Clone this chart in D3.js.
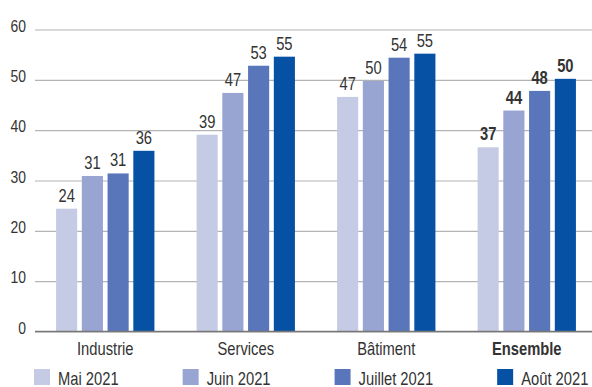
<!DOCTYPE html>
<html>
<head>
<meta charset="utf-8">
<script src="https://cdn.jsdelivr.net/npm/d3@7"></script>
<style>
  body { margin: 0; background: #fff; }
  svg { display: block; }
  text { font-family: "Liberation Sans", Arial, sans-serif; fill: #333; }
</style>
</head>
<body>
<div id="chart"></div>
<script>
// categories and series
var categories = ["Industrie", "Services", "Bâtiment", "Ensemble"];
var months = ["Mai 2021", "Juin 2021", "Juillet 2021", "Août 2021"];
var colors = ["#c6cbe5", "#98a4d1", "#5a76ba", "#0751a5"];

// values per category, in month order
var industrie = [24.4, 30.9, 31.4, 35.9];
var services = [39.1, 47.4, 52.8, 54.6];
var batiment = [46.6, 49.8, 54.4, 55.2];
var ensemble = [36.6, 43.9, 47.8, 50.2];
var yTicks = [0, 10, 20, 30, 40, 50, 60];

var values = [industrie, services, batiment, ensemble];

var w = 592, h = 387;
var narrow = 0.82; // condensed look of the original font

var svg = d3.select("#chart").append("svg")
    .attr("width", w)
    .attr("height", h);

function place(x, y) {
  return "translate(" + x + "," + y + ") scale(" + narrow + ",1)";
}

var x0 = d3.scaleBand()
    .domain(categories)
    .range([35, 597])
    .paddingInner(0.3)
    .paddingOuter(0.15);

var x1 = d3.scaleBand()
    .domain(months)
    .range([0, x0.bandwidth()])
    .paddingInner(0.18);

var y = d3.scaleLinear()
    .domain([0, 60])
    .range([331.5, 29.5]);

var fmt = d3.format(".0f");

// grid
var yAxis = d3.axisLeft(y)
    .tickValues(yTicks)
    .tickSize(-(w - 35))
    .tickPadding(0);

var gy = svg.append("g")
    .attr("transform", "translate(35,0)")
    .call(yAxis);
gy.select(".domain").remove();
gy.selectAll(".tick line")
    .attr("stroke", "#b4b4b4")
    .attr("stroke-width", 1.2);
gy.selectAll(".tick text")
    .attr("x", null)
    .attr("dy", "0.1em")
    .attr("transform", place(-9, 0))
    .style("font-size", "17px")
    .attr("fill", "#333");

// bars
var groups = svg.selectAll("g.cat")
    .data(categories)
  .enter().append("g")
    .attr("class", "cat")
    .attr("transform", function(d) { return "translate(" + x0(d) + ",0)"; });

groups.selectAll("rect")
    .data(function(d, i) {
      return months.map(function(m, j) { return {cat: d, month: m, value: values[i][j], color: colors[j]}; });
    })
  .enter().append("rect")
    .attr("x", function(d) { return x1(d.month); })
    .attr("y", function(d) { return y(d.value); })
    .attr("width", x1.bandwidth())
    .attr("height", function(d) { return y(0) - y(d.value); })
    .attr("fill", function(d) { return d.color; });

groups.selectAll("text.val")
    .data(function(d, i) {
      return months.map(function(m, j) { return {cat: d, month: m, value: values[i][j]}; });
    })
  .enter().append("text")
    .attr("class", "val")
    .attr("transform", function(d) { return place(x1(d.month) + x1.bandwidth() / 2, y(d.value) - 7); })
    .attr("text-anchor", "middle")
    .style("font-size", "18px")
    .style("font-weight", function(d) { return d.cat === "Ensemble" ? "bold" : "normal"; })
    .text(function(d) { return fmt(d.value); });

// zero line
svg.append("line")
    .attr("x1", 35).attr("x2", w)
    .attr("y1", y(0)).attr("y2", y(0))
    .attr("stroke", "#777")
    .attr("stroke-width", 1.5);

// category labels
svg.selectAll("text.cat")
    .data(categories)
  .enter().append("text")
    .attr("class", "cat")
    .attr("transform", function(d) { return place(x0(d) + x0.bandwidth() / 2, 355); })
    .attr("text-anchor", "middle")
    .style("font-size", "18px")
    .style("font-weight", function(d) { return d === "Ensemble" ? "bold" : "normal"; })
    .text(function(d) { return d; });

// legend, items spaced with an even gap
var legend = svg.append("g");
var lx = 34;
months.forEach(function(m, i) {
  var item = legend.append("g").attr("transform", "translate(" + lx + ",0)");
  item.append("rect")
      .attr("x", 0).attr("y", 369)
      .attr("width", 16).attr("height", 16)
      .attr("fill", colors[i]);
  var t = item.append("text")
      .attr("transform", place(24, 385))
      .style("font-size", "18px")
      .text(m);
  lx += 24 + t.node().getComputedTextLength() * narrow + 64;
});
</script>
</body>
</html>
